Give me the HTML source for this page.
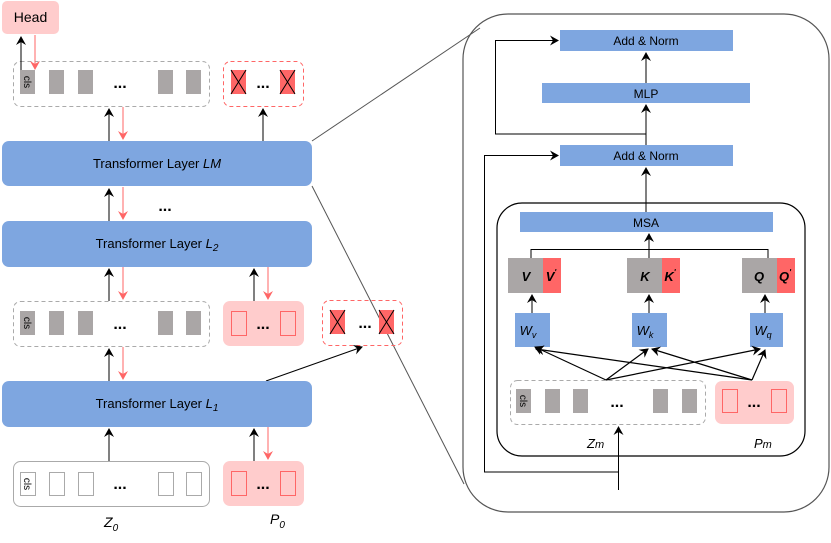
<!DOCTYPE html>
<html><head><meta charset="utf-8"><style>
html,body{margin:0;padding:0;background:#fff;}
svg{display:block;font-family:"Liberation Sans",Arial,sans-serif;}
</style></head><body>
<svg width="831" height="543" viewBox="0 0 831 543" xmlns="http://www.w3.org/2000/svg">
<defs>
<marker id="ab" markerWidth="10" markerHeight="10" refX="8" refY="5" orient="auto" markerUnits="userSpaceOnUse"><path d="M0,0 L9,5 L0,10 L3,5 z" fill="#000"/></marker>
<marker id="ar" markerWidth="10" markerHeight="10" refX="8" refY="5" orient="auto" markerUnits="userSpaceOnUse"><path d="M0,0 L9,5 L0,10 L3,5 z" fill="#ff6666"/></marker>
</defs>

<line x1="312" y1="141" x2="480" y2="28" stroke="#555" stroke-width="1"/>
<line x1="312" y1="186" x2="464" y2="484" stroke="#555" stroke-width="1"/>

<rect x="2" y="1" width="57" height="33" rx="5" fill="#ffcccc"/>
<text x="30.5" y="22" font-size="14" text-anchor="middle">Head</text>

<rect x="13.5" y="61.5" width="196" height="45" rx="7" fill="none" stroke="#aaa" stroke-dasharray="4,3"/>
<rect x="20" y="70" width="15" height="24" fill="#aaa6a6"/>
<text transform="translate(24,82) rotate(90)" font-size="10" text-anchor="middle">cls</text>
<rect x="49" y="70" width="15" height="24" fill="#aaa6a6"/>
<rect x="78" y="70" width="15" height="24" fill="#aaa6a6"/>
<text x="120" y="88" font-size="16" text-anchor="middle" font-weight="bold">...</text>
<rect x="158" y="70" width="15" height="24" fill="#aaa6a6"/>
<rect x="186" y="70" width="15" height="24" fill="#aaa6a6"/>
<rect x="223.5" y="61.5" width="80" height="45" rx="7" fill="none" stroke="#ff6666" stroke-dasharray="4,3"/>
<rect x="231" y="70" width="15" height="24" fill="#ff6666"/><path d="M231,70 L246,94 M246,70 L231,94" stroke="#000"/>
<rect x="280" y="70" width="15" height="24" fill="#ff6666"/><path d="M280,70 L295,94 M295,70 L280,94" stroke="#000"/>
<text x="263" y="88" font-size="16" text-anchor="middle" font-weight="bold">...</text>

<line x1="21" y1="70" x2="21" y2="37" stroke="#000" marker-end="url(#ab)"/>
<line x1="35" y1="35" x2="35" y2="69" stroke="#ff6666" marker-end="url(#ar)"/>

<rect x="2" y="141" width="310" height="45" rx="7" fill="#7ea6e0"/>
<text x="157" y="168" font-size="13" text-anchor="middle">Transformer Layer <tspan font-style="italic">LM</tspan></text>
<line x1="109" y1="141" x2="109" y2="109" stroke="#000" marker-end="url(#ab)"/>
<line x1="123" y1="107" x2="123" y2="139" stroke="#ff6666" marker-end="url(#ar)"/>
<line x1="263" y1="141" x2="263" y2="109" stroke="#000" marker-end="url(#ab)"/>

<text x="165" y="211" font-size="16" text-anchor="middle" font-weight="bold">...</text>
<line x1="109" y1="221" x2="109" y2="189" stroke="#000" marker-end="url(#ab)"/>
<line x1="123" y1="187" x2="123" y2="219" stroke="#ff6666" marker-end="url(#ar)"/>

<rect x="2" y="221" width="310" height="46" rx="7" fill="#7ea6e0"/>
<text x="157" y="248" font-size="13" text-anchor="middle">Transformer Layer <tspan font-style="italic">L</tspan><tspan font-style="italic" font-size="10" dy="3">2</tspan></text>
<line x1="109" y1="301" x2="109" y2="269" stroke="#000" marker-end="url(#ab)"/>
<line x1="123" y1="267" x2="123" y2="299" stroke="#ff6666" marker-end="url(#ar)"/>
<line x1="254" y1="301" x2="254" y2="269" stroke="#000" marker-end="url(#ab)"/>
<line x1="268" y1="267" x2="268" y2="299" stroke="#ff6666" marker-end="url(#ar)"/>

<rect x="13.5" y="301.5" width="196" height="45" rx="7" fill="none" stroke="#aaa" stroke-dasharray="4,3"/>
<rect x="20" y="311" width="15" height="24" fill="#aaa6a6"/>
<text transform="translate(24,323) rotate(90)" font-size="10" text-anchor="middle">cls</text>
<rect x="49" y="311" width="15" height="24" fill="#aaa6a6"/>
<rect x="78" y="311" width="15" height="24" fill="#aaa6a6"/>
<text x="120" y="329" font-size="16" text-anchor="middle" font-weight="bold">...</text>
<rect x="158" y="311" width="15" height="24" fill="#aaa6a6"/>
<rect x="186" y="311" width="15" height="24" fill="#aaa6a6"/>
<rect x="223" y="301" width="81" height="45" rx="7" fill="#ffcccc"/>
<rect x="231.5" y="311.5" width="15" height="24" fill="none" stroke="#ff6666"/>
<rect x="280.5" y="311.5" width="15" height="24" fill="none" stroke="#ff6666"/>
<text x="263" y="329" font-size="16" text-anchor="middle" font-weight="bold">...</text>
<rect x="322.5" y="300.5" width="80" height="45" rx="7" fill="none" stroke="#ff6666" stroke-dasharray="4,3"/>
<rect x="330" y="310" width="15" height="24" fill="#ff6666"/><path d="M330,310 L345,334 M345,310 L330,334" stroke="#000"/>
<rect x="379" y="310" width="15" height="24" fill="#ff6666"/><path d="M379,310 L394,334 M394,310 L379,334" stroke="#000"/>
<text x="365" y="328" font-size="16" text-anchor="middle" font-weight="bold">...</text>

<line x1="109" y1="381" x2="109" y2="349" stroke="#000" marker-end="url(#ab)"/>
<line x1="123" y1="347" x2="123" y2="379" stroke="#ff6666" marker-end="url(#ar)"/>
<line x1="266" y1="381" x2="362" y2="347" stroke="#000" marker-end="url(#ab)"/>
<rect x="2" y="381" width="310" height="46" rx="7" fill="#7ea6e0"/>
<text x="157" y="408" font-size="13" text-anchor="middle">Transformer Layer <tspan font-style="italic">L</tspan><tspan font-style="italic" font-size="10" dy="3">1</tspan></text>
<line x1="109" y1="461" x2="109" y2="429" stroke="#000" marker-end="url(#ab)"/>
<line x1="254" y1="461" x2="254" y2="429" stroke="#000" marker-end="url(#ab)"/>
<line x1="268" y1="427" x2="268" y2="459" stroke="#ff6666" marker-end="url(#ar)"/>

<rect x="13.5" y="461.5" width="196" height="45" rx="7" fill="none" stroke="#aaa"/>
<rect x="20.5" y="472.5" width="15" height="23" fill="none" stroke="#aaa"/>
<text transform="translate(24,484) rotate(90)" font-size="10" text-anchor="middle">cls</text>
<rect x="49.5" y="472.5" width="15" height="23" fill="none" stroke="#aaa"/>
<rect x="78.5" y="472.5" width="15" height="23" fill="none" stroke="#aaa"/>
<text x="120" y="489" font-size="16" text-anchor="middle" font-weight="bold">...</text>
<rect x="158.5" y="472.5" width="15" height="23" fill="none" stroke="#aaa"/>
<rect x="186.5" y="472.5" width="15" height="23" fill="none" stroke="#aaa"/>
<rect x="223" y="461" width="81" height="45" rx="7" fill="#ffcccc"/>
<rect x="231.5" y="471.5" width="15" height="24" fill="none" stroke="#ff6666"/>
<rect x="280.5" y="471.5" width="15" height="24" fill="none" stroke="#ff6666"/>
<text x="263" y="489" font-size="16" text-anchor="middle" font-weight="bold">...</text>
<text x="104" y="527" font-size="14" font-style="italic">Z<tspan font-size="10" dy="4">0</tspan></text>
<text x="270" y="524" font-size="14" font-style="italic">P<tspan font-size="10" dy="4">0</tspan></text>

<rect x="463" y="14" width="366" height="498" rx="45" fill="none" stroke="#555" stroke-width="1.2"/>

<rect x="560" y="30" width="173" height="21" fill="#7ea6e0"/>
<text x="646" y="45" font-size="12" text-anchor="middle">Add &amp; Norm</text>
<rect x="542" y="83" width="208" height="20" fill="#7ea6e0"/>
<text x="646" y="98" font-size="12" text-anchor="middle">MLP</text>
<rect x="560" y="145" width="173" height="21" fill="#7ea6e0"/>
<text x="646" y="160" font-size="12" text-anchor="middle">Add &amp; Norm</text>
<line x1="646" y1="83" x2="646" y2="53" stroke="#000" marker-end="url(#ab)"/>
<line x1="646" y1="145" x2="646" y2="105" stroke="#000" marker-end="url(#ab)"/>
<polyline points="646,134 495.5,134 495.5,40.5 558,40.5" fill="none" stroke="#000" marker-end="url(#ab)"/>
<line x1="646" y1="212" x2="646" y2="168" stroke="#000" marker-end="url(#ab)"/>
<polyline points="618.5,472 484.5,472 484.5,155.5 558,155.5" fill="none" stroke="#000" marker-end="url(#ab)"/>
<line x1="618.5" y1="490" x2="618.5" y2="427" stroke="#000" marker-end="url(#ab)"/>

<rect x="497" y="203" width="308" height="253" rx="25" fill="none" stroke="#000" stroke-width="1.2"/>
<rect x="520" y="212" width="253" height="20" fill="#7ea6e0"/>
<text x="646" y="227" font-size="12" text-anchor="middle">MSA</text>
<polyline points="531,258 531,249.5 768,249.5 768,258" fill="none" stroke="#000"/>
<line x1="649" y1="258" x2="649" y2="234" stroke="#000" marker-end="url(#ab)"/>

<rect x="508" y="258" width="35" height="35" fill="#aaa6a6"/><rect x="543" y="258" width="18" height="35" fill="#ff6666"/>
<text x="526" y="281" font-size="13" font-weight="bold" font-style="italic" text-anchor="middle">V</text>
<text x="551" y="281" font-size="13" font-weight="bold" font-style="italic" text-anchor="middle">V<tspan font-size="8" dy="-6">'</tspan></text>
<rect x="627" y="258" width="35" height="35" fill="#aaa6a6"/><rect x="662" y="258" width="18" height="35" fill="#ff6666"/>
<text x="645" y="281" font-size="13" font-weight="bold" font-style="italic" text-anchor="middle">K</text>
<text x="670" y="281" font-size="13" font-weight="bold" font-style="italic" text-anchor="middle">K<tspan font-size="8" dy="-6">'</tspan></text>
<rect x="742" y="258" width="35" height="35" fill="#aaa6a6"/><rect x="777" y="258" width="18" height="35" fill="#ff6666"/>
<text x="759" y="281" font-size="13" font-weight="bold" font-style="italic" text-anchor="middle">Q</text>
<text x="785" y="281" font-size="13" font-weight="bold" font-style="italic" text-anchor="middle">Q<tspan font-size="8" dy="-6">'</tspan></text>

<line x1="532" y1="313" x2="532" y2="295" stroke="#000" marker-end="url(#ab)"/>
<line x1="649" y1="313" x2="649" y2="295" stroke="#000" marker-end="url(#ab)"/>
<line x1="765" y1="313" x2="765" y2="295" stroke="#000" marker-end="url(#ab)"/>

<rect x="515" y="313" width="35" height="34" fill="#7ea6e0"/>
<text x="528" y="335" font-size="13" font-style="italic" text-anchor="middle">W<tspan font-size="9" dy="3">v</tspan></text>
<rect x="632" y="313" width="35" height="34" fill="#7ea6e0"/>
<text x="645" y="335" font-size="13" font-style="italic" text-anchor="middle">W<tspan font-size="9" dy="3">k</tspan></text>
<rect x="750" y="313" width="33" height="34" fill="#7ea6e0"/>
<text x="763" y="335" font-size="13" font-style="italic" text-anchor="middle">W<tspan font-size="9" dy="3">q</tspan></text>

<g stroke="#000" stroke-width="1.2">
<line x1="606" y1="380" x2="535" y2="347" marker-end="url(#ab)"/>
<line x1="606" y1="380" x2="648" y2="349" marker-end="url(#ab)"/>
<line x1="606" y1="380" x2="760" y2="349" marker-end="url(#ab)"/>
<line x1="752" y1="380" x2="536" y2="349" marker-end="url(#ab)"/>
<line x1="752" y1="380" x2="652" y2="349" marker-end="url(#ab)"/>
<line x1="752" y1="380" x2="765" y2="350" marker-end="url(#ab)"/>
</g>

<rect x="510.5" y="380.5" width="195" height="44" rx="7" fill="none" stroke="#aaa" stroke-dasharray="4,3"/>
<rect x="516" y="389" width="15" height="24" fill="#aaa6a6"/>
<text transform="translate(520,401) rotate(90)" font-size="10" text-anchor="middle">cls</text>
<rect x="545" y="389" width="15" height="24" fill="#aaa6a6"/>
<rect x="573" y="389" width="15" height="24" fill="#aaa6a6"/>
<text x="617" y="407" font-size="16" text-anchor="middle" font-weight="bold">...</text>
<rect x="653" y="389" width="15" height="24" fill="#aaa6a6"/>
<rect x="682" y="389" width="15" height="24" fill="#aaa6a6"/>
<rect x="715" y="381" width="79" height="43" rx="7" fill="#ffcccc"/>
<rect x="722.5" y="389.5" width="15" height="23" fill="none" stroke="#ff6666"/>
<rect x="771.5" y="389.5" width="15" height="23" fill="none" stroke="#ff6666"/>
<text x="754" y="407" font-size="16" text-anchor="middle" font-weight="bold">...</text>
<text x="587" y="448" font-size="13" font-style="italic">Z<tspan font-size="11">m</tspan></text>
<text x="754" y="448" font-size="13" font-style="italic">P<tspan font-size="11">m</tspan></text>
</svg>
</body></html>
